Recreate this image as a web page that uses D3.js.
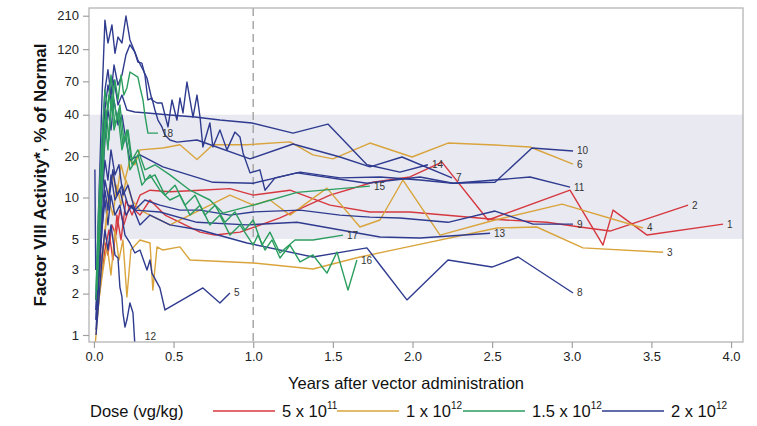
<!DOCTYPE html>
<html>
<head>
<meta charset="utf-8">
<script src="https://cdn.jsdelivr.net/npm/d3@7"></script>
<style>
  body { margin: 0; background: #fff; }
  svg text { font-family: "Liberation Sans", Arial, sans-serif; }
</style>
</head>
<body>
<svg id="chart" width="757" height="426"></svg>
<script>
// Factor VIII activity per participant: [years after vector administration, % of normal]
const p1 = [[0.013,1.8],[0.038,2.97],[0.063,4.91],[0.088,3.82],[0.113,6.32],[0.138,5.33],[0.163,8.1],[0.188,6.32],[0.226,8.8],[0.289,7.45],[0.352,9.59],[0.446,7.45],[0.54,6.6],[0.666,5.6],[0.76,5.33],[0.917,5.6],[1.168,7.1],[1.482,10.4],[1.752,12.9],[1.984,14.1],[2.185,18.1],[2.474,6.86],[2.989,11.3],[3.196,4.51],[3.259,8.1],[3.473,5.33],[3.95,6.4]];
const p2 = [[0.019,1.52],[0.044,2.51],[0.069,4.15],[0.094,5.8],[0.119,3.51],[0.144,7.45],[0.17,4.91],[0.201,9.59],[0.239,7.45],[0.289,10.4],[0.352,11.3],[0.477,11.0],[0.666,11.3],[0.854,11.6],[1.0,10.4],[1.231,11.3],[1.482,8.8],[1.733,7.85],[1.984,7.85],[2.487,6.97],[2.844,6.6],[3.051,6.1],[3.24,5.7],[3.73,8.8]];
const p3 = [[0.006,0.8],[0.013,1.0],[0.031,1.8],[0.057,2.97],[0.082,4.51],[0.107,2.73],[0.132,5.8],[0.157,3.51],[0.182,4.91],[0.207,1.89],[0.232,4.15],[0.289,4.91],[0.352,4.67],[0.37,2.12],[0.396,4.37],[0.433,4.15],[0.54,4.37],[0.603,3.51],[1.0,3.34],[1.375,3.02],[1.67,3.69],[1.94,4.3],[2.53,6.0],[2.78,6.1],[3.07,4.3],[3.573,4.0]];
const p4 = [[0.019,1.29],[0.044,2.51],[0.069,5.8],[0.094,9.59],[0.119,7.45],[0.144,12.3],[0.17,8.8],[0.201,13.4],[0.239,9.59],[0.289,8.1],[0.352,7.45],[0.477,6.32],[0.666,8.1],[0.854,10.4],[1.0,8.8],[1.105,9.59],[1.231,7.45],[1.463,11.7],[1.67,6.1],[1.796,6.86],[1.94,13.4],[2.173,5.33],[2.518,6.86],[2.939,8.95],[3.447,6.0]];
const p5 = [[0.013,1.29],[0.031,2.97],[0.05,5.8],[0.069,9.59],[0.088,6.32],[0.107,10.4],[0.132,7.45],[0.163,8.8],[0.195,5.33],[0.226,4.67],[0.257,3.95],[0.289,4.15],[0.333,2.97],[0.352,3.51],[0.364,2.82],[0.414,2.2],[0.446,1.52],[0.684,2.2],[0.791,1.71],[0.854,2.02]];
const p6 = [[0.019,1.52],[0.044,2.97],[0.069,5.33],[0.094,11.3],[0.119,14.6],[0.144,10.4],[0.17,17.3],[0.195,13.4],[0.226,18.7],[0.257,17.3],[0.289,22.2],[0.433,22.9],[0.54,24.2],[0.647,18.9],[0.747,24.2],[0.961,24.2],[1.231,25.4],[1.375,20.4],[1.501,19.1],[1.733,24.9],[1.997,19.7],[2.223,24.9],[2.518,24.1],[2.738,23.3],[3.008,17.5]];
const p7 = [[0.013,1.29],[0.031,4.15],[0.05,22.2],[0.069,60.5],[0.088,85],[0.107,55.6],[0.126,92],[0.151,65.8],[0.176,77.8],[0.201,109],[0.226,129],[0.257,114],[0.276,96.7],[0.301,95],[0.32,77.8],[0.339,51.2],[0.364,52.9],[0.383,43.3],[0.402,36.6],[0.427,32.6],[0.446,28.5],[0.477,26.2],[0.521,25.3],[0.647,26.2],[0.98,19.1],[1.25,24.5],[1.545,19.7],[1.733,16.7],[1.934,19.7],[2.248,13.9]];
const p8 = [[0.013,1.09],[0.031,2.51],[0.05,5.8],[0.069,11.3],[0.088,8.1],[0.107,14.6],[0.132,9.59],[0.163,11.3],[0.201,7.45],[0.239,8.8],[0.289,6.32],[0.352,7.45],[0.477,6.32],[0.666,5.8],[0.961,4.67],[1.375,3.69],[1.714,4.3],[1.796,3.23],[1.965,1.8],[2.223,3.51],[2.499,3.12],[2.663,3.69],[3.008,2.02]];
const p9 = [[0.013,1.8],[0.031,4.15],[0.05,9.59],[0.069,18.7],[0.088,13.4],[0.107,22.2],[0.132,14.6],[0.157,17.3],[0.182,10.4],[0.214,12.3],[0.257,8.1],[0.32,9.59],[0.414,8.8],[0.54,8.1],[0.666,8.1],[0.854,7.45],[1.0,7.85],[1.294,8.1],[1.545,7.45],[1.733,7.2],[1.921,7.1],[2.223,6.6],[2.518,7.97],[2.757,6.4],[3.008,6.4]];
const p10 = [[0.013,1.8],[0.031,9.59],[0.05,51.2],[0.069,195],[0.088,133],[0.113,180],[0.132,112],[0.151,147],[0.176,133],[0.201,209],[0.226,140],[0.245,124],[0.276,100],[0.308,85],[0.333,74],[0.364,51.2],[0.396,48.7],[0.427,48.7],[0.465,32.6],[0.49,51.2],[0.521,36.6],[0.54,52.9],[0.559,41.2],[0.584,69.2],[0.603,51.2],[0.622,38.5],[0.647,55.6],[0.666,38.5],[0.684,23.3],[0.728,34.8],[0.747,23.3],[0.791,31],[0.835,22.2],[0.885,29.9],[0.917,27.5],[0.936,21.1],[0.98,15.1],[1.042,15.9],[1.074,11.3],[1.137,13.9],[1.294,15.3],[1.545,13.9],[1.796,14.1],[2.047,13.4],[2.254,12.7],[2.518,12.9],[2.75,22.9],[3.008,21.8]];
const p11 = [[0.013,1.52],[0.031,3.51],[0.05,11.3],[0.069,26.2],[0.088,43.3],[0.107,31],[0.126,51.2],[0.151,33.7],[0.176,39.8],[0.201,26.2],[0.226,18.7],[0.289,20.4],[0.433,16.7],[0.747,12.9],[1.0,12.7],[1.275,15.1],[1.714,12.7],[2.047,14.1],[2.254,12.7],[2.518,13.4],[2.738,14.1],[2.989,11.9]];
const p12 = [[0.013,1.0],[0.031,1.8],[0.05,3.51],[0.069,5.8],[0.088,4.15],[0.107,6.32],[0.132,3.82],[0.151,3.63],[0.163,2.23],[0.176,1.89],[0.182,1.45],[0.195,1.14],[0.207,1.29],[0.226,1.71],[0.245,1.45],[0.257,0.85]];
const p13 = [[0.006,16],[0.011,3.0],[0.031,2.97],[0.05,6.86],[0.069,13.4],[0.094,9.59],[0.119,15.9],[0.144,10.4],[0.176,12.3],[0.214,8.8],[0.257,8.1],[0.414,7.85],[0.647,6.6],[0.961,6.32],[1.275,6.6],[1.796,5.16],[2.047,5.08],[2.487,5.5]];
const p14 = [[0.013,1.52],[0.031,4.91],[0.05,18.7],[0.069,43.3],[0.088,65.8],[0.107,51.2],[0.126,71.6],[0.151,47.1],[0.176,55.6],[0.207,43.3],[0.257,41.9],[0.333,41.2],[0.477,39.8],[0.634,38.5],[0.791,36.6],[0.992,34.8],[1.25,29.4],[1.469,34.2],[1.714,17.3],[1.921,15.3],[2.097,17.3]];
const p15 = [[0.013,2.12],[0.031,9.59],[0.05,26.2],[0.069,60.5],[0.088,43.3],[0.107,77.8],[0.126,51.2],[0.144,36.6],[0.163,47.1],[0.188,26.2],[0.214,31],[0.239,18.7],[0.276,22.2],[0.32,15.9],[0.383,17.3],[0.477,14.6],[0.603,11.3],[0.728,9.59],[0.81,7.7],[1.0,8.8],[1.275,10.9],[1.733,12.1]];
const p16 = [[0.013,1.8],[0.031,5.8],[0.05,15.9],[0.069,36.6],[0.088,22.2],[0.107,51.2],[0.126,31],[0.151,39.8],[0.176,22.2],[0.201,28.5],[0.226,15.9],[0.264,18.7],[0.301,12.3],[0.352,14.6],[0.414,11.3],[0.477,9.59],[0.54,10.4],[0.603,7.45],[0.666,8.8],[0.728,6.32],[0.791,7.45],[0.854,5.33],[0.917,6.32],[1.0,4.51],[1.03,5.33],[1.074,4.15],[1.118,4.91],[1.168,3.63],[1.231,4.51],[1.294,3.4],[1.375,3.82],[1.463,2.82],[1.526,4.01],[1.595,2.12],[1.651,3.51]];
const p17 = [[0.019,2.12],[0.038,6.86],[0.057,22.2],[0.075,43.3],[0.094,26.2],[0.113,55.6],[0.132,33.7],[0.157,43.3],[0.182,24.1],[0.207,31],[0.239,17.3],[0.276,20.4],[0.32,13.4],[0.383,14.6],[0.446,10.4],[0.509,12.3],[0.571,8.8],[0.634,10.4],[0.697,7.45],[0.76,8.8],[0.823,6.6],[0.885,7.85],[0.948,5.8],[1.0,6.86],[1.055,4.51],[1.105,5.6],[1.168,3.95],[1.262,4.91],[1.375,4.91],[1.564,5.33]];
const p18 = [[0.019,2.51],[0.038,5.8],[0.057,15.9],[0.075,36.6],[0.094,55.6],[0.113,43.3],[0.132,71.6],[0.151,51.2],[0.17,77.8],[0.188,55.6],[0.207,62.6],[0.226,81.8],[0.276,75.2],[0.289,63.6],[0.308,51.2],[0.32,39.8],[0.339,29.4],[0.402,29.4]];

// Dose cohort of each participant (index into the dose arrays below)
const participantIds = ["1","2","3","4","5","6","7","8","9","10","11","12","13","14","15","16","17","18"];
const participantDose = [0,0,1,1,3,1,3,3,3,3,3,3,3,3,2,2,2,2];
const participantSeries = [p1,p2,p3,p4,p5,p6,p7,p8,p9,p10,p11,p12,p13,p14,p15,p16,p17,p18];

// Dose cohorts: base text and exponent
const doseBase = ["5 x 10", "1 x 10", "1.5 x 10", "2 x 10"];
const doseExp = ["11", "12", "12", "12"];
const doseColors = ["#d6383f", "#d9a43c", "#2b9d5f", "#2f3b8f"];

const xTicks = [0, 0.5, 1.0, 1.5, 2.0, 2.5, 3.0, 3.5, 4.0];
const yTicks = [1, 2, 3, 5, 10, 20, 40, 70, 120, 210];
const normalBand = [5, 40];
const landmarkYear = 1.0;

const svg = d3.select("#chart");
const plotLeft = 89, plotRight = 743, plotTop = 8, plotBottom = 342;

const x = d3.scaleLinear().domain([-0.031, 4.075]).range([plotLeft, plotRight]);
const y = d3.scaleLog().domain([0.889, 239]).range([plotBottom, plotTop]);

svg.append("defs").append("clipPath").attr("id", "plot-clip")
  .append("rect").attr("x", plotLeft).attr("y", plotTop)
  .attr("width", plotRight - plotLeft).attr("height", plotBottom - plotTop);

// Reference range shading
svg.append("rect")
  .attr("x", plotLeft).attr("width", plotRight - plotLeft)
  .attr("y", y(normalBand[1])).attr("height", y(normalBand[0]) - y(normalBand[1]))
  .attr("fill", "#e9e9f2");

// One-year landmark
svg.append("line")
  .attr("x1", x(landmarkYear)).attr("x2", x(landmarkYear))
  .attr("y1", plotTop).attr("y2", plotBottom)
  .attr("stroke", "#a8a8a8").attr("stroke-width", 1.5)
  .attr("stroke-dasharray", "8,5");

const line = d3.line().x(d => x(d[0])).y(d => y(d[1]));
const plot = svg.append("g").attr("clip-path", "url(#plot-clip)");

const order = d3.range(participantSeries.length);
order.forEach(i => {
  plot.append("path")
    .attr("d", line(participantSeries[i]))
    .attr("fill", "none")
    .attr("stroke", doseColors[participantDose[i]])
    .attr("stroke-width", 1.4)
    .attr("stroke-linejoin", "round");
});

// Participant number at the end of each trajectory
order.forEach(i => {
  const last = participantSeries[i][participantSeries[i].length - 1];
  const below = last[1] < y.domain()[0];
  const yy = below ? plotBottom - 6 : y(last[1]);
  svg.append("text")
    .attr("x", x(last[0]) + (below ? 10 : 4))
    .attr("y", yy + 3.5)
    .attr("font-size", 10)
    .attr("fill", "#333")
    .text(participantIds[i]);
});

// Frame
svg.append("rect")
  .attr("x", plotLeft).attr("y", plotTop)
  .attr("width", plotRight - plotLeft).attr("height", plotBottom - plotTop)
  .attr("fill", "none").attr("stroke", "#b4b4b4").attr("stroke-width", 1.3);

// Axes
const yAxis = svg.append("g").attr("transform", `translate(${plotLeft},0)`)
  .call(d3.axisLeft(y).tickValues(yTicks).tickFormat(d3.format("d")).tickSize(6).tickPadding(4));
const xAxis = svg.append("g").attr("transform", `translate(0,${plotBottom})`)
  .call(d3.axisBottom(x).tickValues(xTicks).tickFormat(d3.format(".1f")).tickSize(6).tickPadding(4));
[yAxis, xAxis].forEach(g => {
  g.select(".domain").remove();
  g.selectAll(".tick line").attr("stroke", "#a0a0a0").attr("stroke-width", 1.2);
  g.selectAll(".tick text").attr("fill", "#222").attr("font-size", 13)
    .attr("font-family", "'Liberation Sans', Arial, sans-serif");
});

svg.append("text")
  .attr("x", (plotLeft + plotRight) / 2 - 10).attr("y", 389)
  .attr("text-anchor", "middle").attr("font-size", 16.5).attr("fill", "#111")
  .text("Years after vector administration");

svg.append("text")
  .attr("transform", `translate(46,${(plotTop + plotBottom) / 2}) rotate(-90)`)
  .attr("text-anchor", "middle").attr("font-size", 17).attr("font-weight", "bold").attr("fill", "#111")
  .text("Factor VIII Activity*, % of Normal");

// Legend
const legendY = 411;
svg.append("text").attr("x", 90).attr("y", legendY + 6)
  .attr("font-size", 16.5).attr("fill", "#111").text("Dose (vg/kg)");
const legendStarts = [213, 337, 463, 602];
doseBase.forEach((b, i) => {
  const lx = legendStarts[i];
  svg.append("line").attr("x1", lx).attr("x2", lx + 62)
    .attr("y1", legendY).attr("y2", legendY)
    .attr("stroke", doseColors[i]).attr("stroke-width", 1.5);
  const t = svg.append("text").attr("x", lx + 69).attr("y", legendY + 6)
    .attr("font-size", 16.5).attr("fill", "#111");
  t.append("tspan").text(b);
  t.append("tspan").attr("dy", -8).attr("font-size", 10).text(doseExp[i]);
});
</script>
</body>
</html>
